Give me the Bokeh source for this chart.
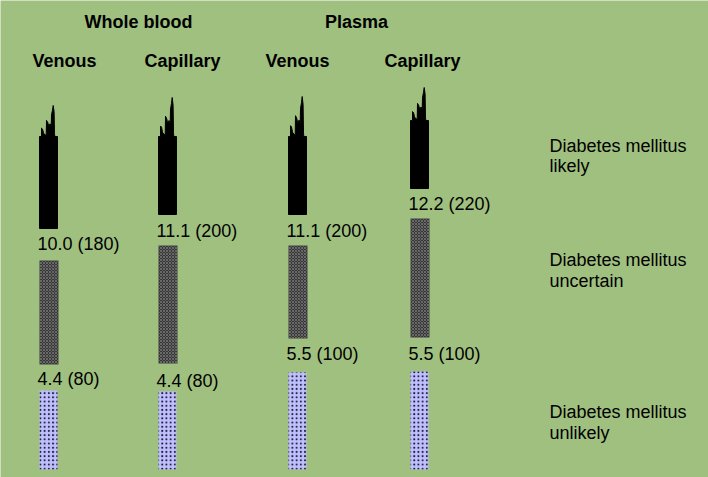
from bokeh.plotting import figure
from bokeh.models import Range1d
from bokeh.core.properties import value
from bokeh.embed import file_html
from bokeh.resources import INLINE

# ---------------- data ----------------
groups = ["Whole blood", "Plasma"]
samples = ["Venous", "Capillary", "Venous", "Capillary"]
upper_mmol = [10.0, 11.1, 11.1, 12.2]
upper_mgdl = [180, 200, 200, 220]
lower_mmol = [4.4, 4.4, 5.5, 5.5]
lower_mgdl = [80, 80, 100, 100]
zone_line1 = ["Diabetes mellitus", "Diabetes mellitus", "Diabetes mellitus"]
zone_line2 = ["likely", "uncertain", "unlikely"]

# ---------------- layout (pixel space, schematic diagram) ----------------
W, H = 708, 477
BG = "#a0c080"
FONT = "Liberation Sans"
col_left = [39, 158, 288, 410]
bar_w = 18
grey_w = 19
black_top = [136, 136, 136, 120]
black_peak = [31, 39, 40, 33]
black_bottom = [228, 214, 214, 188]
upper_label_y = [243, 230, 230, 203]
grey_top = [260, 245, 245, 218]
grey_bottom = [364, 363, 338, 337]
lower_label_y = [378, 380, 353, 353]
blue_top = [390, 391, 372, 371]
blue_bottom = 469
group_x = [138, 356]
sample_x = [64, 182, 297, 422]
zone_y1 = [145, 259, 411]
zone_y2 = [165, 280, 432]

# jagged top profile (dx from left edge, fraction of peak height)
spike_dx = [0, 2.0, 2.0, 3.0, 4.0, 4.3, 6.7, 7.0, 8.3, 9.3, 10.5, 11.7, 12.0, 13.0, 13.7, 14.6, 15.0, 15.3, 18]
spike_fr = [0, 0, 0.27, 0.24, 0.12, 0.09, 0.03, 0.52, 0.45, 0.32, 0.41, 0.32, 0.7, 0.85, 1.0, 0.8, 0.1, 0.0, 0]

p = figure(width=W, height=H, x_range=Range1d(0, W), y_range=Range1d(H, 0),
           output_backend="svg", toolbar_location=None, min_border=0,
           background_fill_color=BG, border_fill_color=BG, outline_line_color=None)
p.axis.visible = False
p.grid.visible = False

# black jagged bars (likely)
xs, ys = [], []
for i in range(4):
    left = col_left[i]
    px = [left] + [left + d for d in spike_dx] + [left + bar_w]
    py = [black_bottom[i]] + [black_top[i] - f * black_peak[i] for f in spike_fr] + [black_bottom[i]]
    xs.append(px)
    ys.append(py)
p.patches(xs=xs, ys=ys, fill_color="black", line_color="black", line_width=1)

# grey hatched bars (uncertain)
p.quad(left=col_left, right=[c + grey_w for c in col_left], top=grey_top, bottom=grey_bottom,
       fill_color="#363636", line_color=None, hatch_pattern="x", hatch_color="#8c8c8c",
       hatch_scale=3, hatch_weight=0.6)

# blue dotted bars (unlikely)
p.quad(left=col_left, right=[c + bar_w for c in col_left], top=blue_top,
       bottom=[blue_bottom] * 4, fill_color="#c0c0ff", line_color=None,
       hatch_pattern=".", hatch_color="#202040", hatch_scale=4.2, hatch_weight=0.5)

# threshold labels
up_txt = [f"{v:.1f} ({m})" for v, m in zip(upper_mmol, upper_mgdl)]
lo_txt = [f"{v:.1f} ({m})" for v, m in zip(lower_mmol, lower_mgdl)]
p.text(x=[c - 2 for c in col_left], y=upper_label_y, text=up_txt, text_font=value(FONT),
       text_font_size="18px", text_baseline="middle", text_align="left", text_color="black")
p.text(x=[c - 2 for c in col_left], y=lower_label_y, text=lo_txt, text_font=value(FONT),
       text_font_size="18px", text_baseline="middle", text_align="left", text_color="black")

# headers
p.text(x=group_x, y=[21] * 2, text=groups, text_font=value(FONT), text_font_size="18px",
       text_font_style="bold", text_baseline="middle", text_align="center", text_color="black")
p.text(x=sample_x, y=[60] * 4, text=samples, text_font=value(FONT), text_font_size="18px",
       text_font_style="bold", text_baseline="middle", text_align="center", text_color="black")

# zone labels
p.text(x=[549] * 3, y=zone_y1, text=zone_line1, text_font=value(FONT), text_font_size="18px",
       text_baseline="middle", text_align="left", text_color="black")
p.text(x=[549] * 3, y=zone_y2, text=zone_line2, text_font=value(FONT), text_font_size="18px",
       text_baseline="middle", text_align="left", text_color="black")

open("out.html", "w").write(file_html(p, INLINE))
